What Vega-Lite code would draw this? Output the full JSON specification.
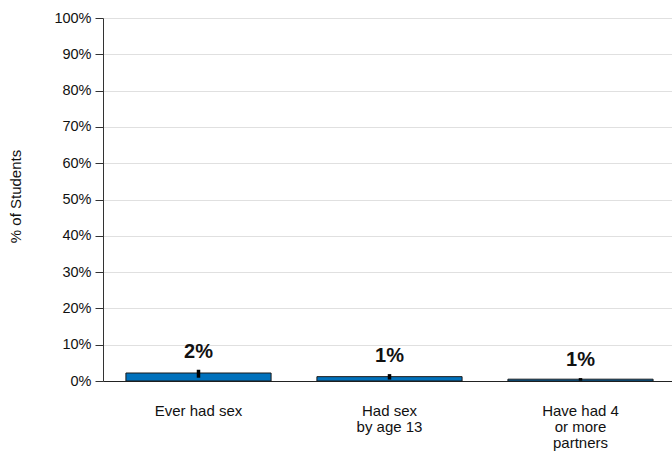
{
  "$schema": "https://vega.github.io/schema/vega-lite/v6.json",
  "width": 573,
  "height": 363,
  "autosize": {"type": "none"},
  "padding": {"left": 103, "top": 18, "right": 0, "bottom": 75},
  "background": "white",
  "config": {
    "view": {"stroke": null},
    "font": "Liberation Sans",
    "axisY": {
      "tickCount": 11,
      "labelOverlap": false,
      "labelExpr": "datum.value + '%'",
      "labelFontSize": 14.5,
      "labelColor": "#111",
      "labelPadding": 4,
      "tickSize": 8,
      "tickColor": "#333",
      "domainColor": "#333",
      "gridColor": "#e0e0e0",
      "gridWidth": 1,
      "titleFontSize": 15,
      "titleFontWeight": "normal",
      "titleColor": "#111",
      "titleX": -80,
      "titleY": 178
    }
  },
  "data": {
    "values": [
      {"category": "Ever had sex", "value": 2.2, "lo": 0.9, "hi": 3.1, "label": "2%"},
      {"category": "Had sex|by age 13", "value": 1.2, "lo": 0.4, "hi": 1.9, "label": "1%"},
      {"category": "Have had 4|or more|partners", "value": 0.5, "lo": 0.1, "hi": 0.8, "label": "1%"}
    ]
  },
  "encoding": {
    "x": {
      "field": "category",
      "type": "nominal",
      "sort": null,
      "scale": {"paddingInner": 0.24, "paddingOuter": 0.12},
      "axis": {
        "title": null,
        "labelAngle": 0,
        "labelExpr": "split(datum.label, '|')",
        "labelFontSize": 15,
        "labelColor": "#111",
        "labelPadding": 22,
        "labelLineHeight": 16,
        "labelBaseline": "top",
        "ticks": false,
        "domainColor": "#222",
        "domainWidth": 1,
        "grid": false
      }
    }
  },
  "layer": [
    {
      "mark": {"type": "bar", "fill": "#0071BC", "stroke": "#1a1a1a", "strokeWidth": 1},
      "encoding": {
        "y": {
          "field": "value",
          "type": "quantitative",
          "scale": {"domain": [0, 100], "nice": false},
          "axis": {"title": "% of Students", "tickCount": 11, "values": [0, 10, 20, 30, 40, 50, 60, 70, 80, 90, 100]}
        }
      }
    },
    {
      "mark": {"type": "rule", "stroke": "#000", "strokeWidth": 3.5},
      "encoding": {
        "y": {"field": "lo", "type": "quantitative"},
        "y2": {"field": "hi"}
      }
    },
    {
      "mark": {"type": "text", "fontSize": 20, "fontWeight": "bold", "baseline": "bottom", "dy": -8, "color": "#111"},
      "encoding": {
        "y": {"field": "hi", "type": "quantitative"},
        "text": {"field": "label"}
      }
    }
  ]
}
